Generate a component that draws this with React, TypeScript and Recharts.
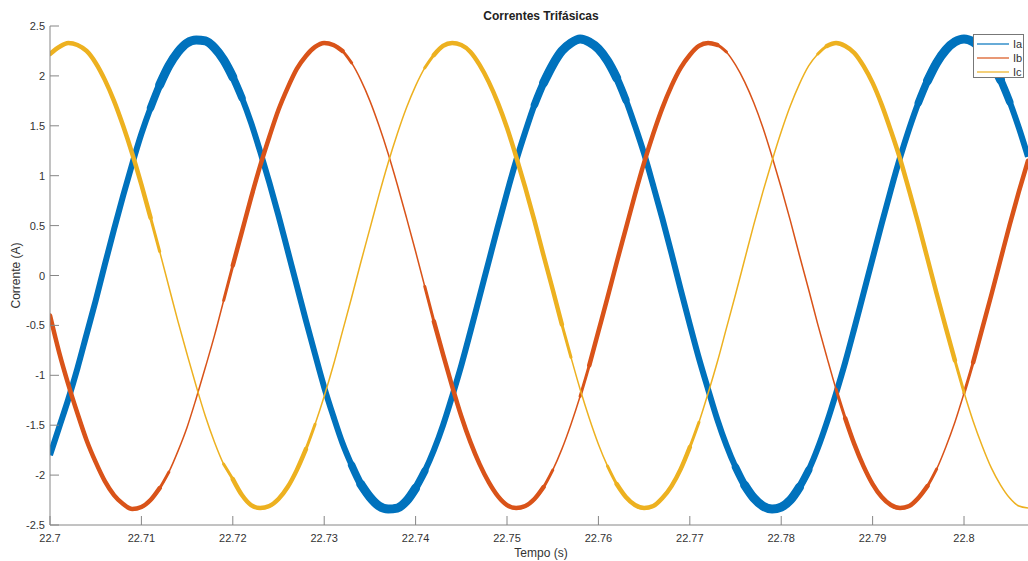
import { LineChart, Line, XAxis, YAxis, Legend, Label } from "recharts";

// sample clock: 1 ms steps from 22.700 s
const tempo = Array.from({ length: 108 }, (_, i) => +(22.7 + i * 0.001).toFixed(3));

const ia = [
  -1.8, -1.52, -1.24, -0.93, -0.59, -0.25, 0.11, 0.46, 0.8, 1.12,
  1.42, 1.68, 1.91, 2.1, 2.24, 2.33, 2.36, 2.35, 2.28, 2.16,
  1.99, 1.78, 1.53, 1.24, 0.93, 0.6, 0.25, -0.1, -0.45, -0.79,
  -1.12, -1.41, -1.68, -1.9, -2.09, -2.22, -2.31, -2.34, -2.33, -2.26,
  -2.13, -1.96, -1.75, -1.5, -1.21, -0.9, -0.56, -0.21, 0.14, 0.49,
  0.83, 1.15, 1.44, 1.71, 1.93, 2.11, 2.25, 2.33, 2.37, 2.34,
  2.27, 2.15, 1.98, 1.76, 1.5, 1.22, 0.9, 0.57, 0.22, -0.14,
  -0.49, -0.83, -1.14, -1.44, -1.7, -1.92, -2.1, -2.23, -2.31, -2.34,
  -2.32, -2.25, -2.12, -1.95, -1.73, -1.47, -1.18, -0.87, -0.53, -0.18,
  0.17, 0.52, 0.86, 1.18, 1.47, 1.73, 1.95, 2.13, 2.26, 2.34,
  2.37, 2.34, 2.26, 2.14, 1.96, 1.74, 1.48, 1.19,
];

const ib = [
  -0.4, -0.77, -1.09, -1.38, -1.65, -1.87, -2.06, -2.2, -2.29, -2.34,
  -2.32, -2.25, -2.13, -1.97, -1.76, -1.52, -1.23, -0.92, -0.6, -0.25,
  0.1, 0.44, 0.78, 1.1, 1.39, 1.66, 1.88, 2.07, 2.2, 2.29,
  2.33, 2.31, 2.25, 2.13, 1.96, 1.75, 1.5, 1.22, 0.91, 0.58,
  0.24, -0.11, -0.46, -0.79, -1.11, -1.41, -1.67, -1.89, -2.07, -2.21,
  -2.3, -2.33, -2.31, -2.24, -2.12, -1.95, -1.74, -1.49, -1.21, -0.9,
  -0.56, -0.22, 0.13, 0.47, 0.81, 1.13, 1.42, 1.68, 1.9, 2.08,
  2.21, 2.3, 2.33, 2.31, 2.24, 2.11, 1.94, 1.73, 1.48, 1.19,
  0.88, 0.55, 0.2, -0.14, -0.49, -0.82, -1.14, -1.43, -1.69, -1.91,
  -2.09, -2.22, -2.3, -2.33, -2.31, -2.23, -2.11, -1.94, -1.72, -1.47,
  -1.18, -0.87, -0.53, -0.19, 0.16, 0.51, 0.84, 1.15,
];

const ic = [
  2.22, 2.29, 2.33, 2.31, 2.25, 2.13, 1.96, 1.75, 1.5, 1.22,
  0.91, 0.58, 0.24, -0.11, -0.46, -0.79, -1.11, -1.41, -1.67, -1.89,
  -2.04, -2.2, -2.3, -2.33, -2.31, -2.24, -2.12, -1.95, -1.74, -1.49,
  -1.21, -0.9, -0.56, -0.22, 0.13, 0.47, 0.81, 1.13, 1.42, 1.68,
  1.9, 2.08, 2.21, 2.3, 2.33, 2.31, 2.24, 2.11, 1.94, 1.73,
  1.48, 1.19, 0.88, 0.55, 0.2, -0.14, -0.49, -0.82, -1.14, -1.43,
  -1.69, -1.91, -2.09, -2.22, -2.3, -2.33, -2.31, -2.23, -2.11, -1.94,
  -1.72, -1.47, -1.18, -0.87, -0.53, -0.19, 0.16, 0.51, 0.84, 1.15,
  1.44, 1.7, 1.92, 2.1, 2.22, 2.3, 2.33, 2.3, 2.23, 2.1,
  1.93, 1.71, 1.45, 1.17, 0.85, 0.52, 0.17, -0.18, -0.52, -0.85,
  -1.17, -1.46, -1.71, -1.93, -2.1, -2.23, -2.31, -2.33,
];

// time spans where the ripple band is wide (s)
const iaRipple = [
  [22.712, 22.72], [22.734, 22.74], [22.754, 22.762], [22.776, 22.782], [22.796, 22.804],
];
const ibRipple = [
  [22.7, 22.712], [22.72, 22.732], [22.742, 22.754],
  [22.759, 22.773], [22.787, 22.796], [22.801, 22.807],
];
const icRipple = [
  [22.7, 22.711], [22.72, 22.728], [22.742, 22.756],
  [22.762, 22.77], [22.785, 22.799],
];
const widen = (spans: number[][], d: number) => spans.map(([a, b]) => [a - d, b + d]);

const xTicks = [22.7, 22.71, 22.72, 22.73, 22.74, 22.75, 22.76, 22.77, 22.78, 22.79, 22.8];
const yTicks = [-2.5, -2, -1.5, -1, -0.5, 0, 0.5, 1, 1.5, 2, 2.5];

const seriesNames = ["Ia", "Ib", "Ic"];
const colors = ["#0072BD", "#D95319", "#EDB120"];

const data = tempo.map((t, i) => ({ t, ia: ia[i], ib: ib[i], ic: ic[i] }));

const inSpan = (t: number, spans: number[][]) =>
  spans.some(([a, b]) => t >= a - 1e-9 && t <= b + 1e-9);

const FONT = "'Liberation Sans', Arial, Helvetica, sans-serif";
const AXIS = "#868686";
const TEXT = "#333333";

const fmtX = (v: number) => String(Number(v.toFixed(2)));

const XTick = (props: any) => {
  const { x, y, payload } = props;
  return (
    <g>
      <line x1={x} x2={x} y1={y} y2={y - 9} stroke={AXIS} />
      <text x={x} y={y + 17} textAnchor="middle" fill={TEXT} fontSize={11} fontFamily={FONT}>
        {fmtX(payload.value)}
      </text>
    </g>
  );
};

const YTick = (props: any) => {
  const { x, y, payload } = props;
  return (
    <g>
      <line x1={x} x2={x + 9} y1={y} y2={y} stroke={AXIS} />
      <text x={x - 5} y={y + 4} textAnchor="end" fill={TEXT} fontSize={11} fontFamily={FONT}>
        {String(payload.value)}
      </text>
    </g>
  );
};

const XLabel = (props: any) => {
  const vb = props.viewBox;
  return (
    <text x={vb.x + vb.width / 2 + 2} y={vb.y + 32} textAnchor="middle" fill={TEXT} fontSize={12} fontFamily={FONT}>
      Tempo (s)
    </text>
  );
};

const YLabel = (props: any) => {
  const vb = props.viewBox;
  const cy = vb.y + vb.height / 2;
  return (
    <text
      x={0}
      y={0}
      transform={`translate(20, ${cy}) rotate(-90)`}
      textAnchor="middle"
      fill={TEXT}
      fontSize={12}
      fontFamily={FONT}
    >
      Corrente (A)
    </text>
  );
};

const LegendBox = () => (
  <div style={{ background: "#fff", border: "1px solid #777", width: 49, height: 42, boxSizing: "content-box" }}>
    <svg width={49} height={42}>
      {seriesNames.map((n, i) => (
        <g key={n}>
          <line x1={3} x2={35} y1={9 + i * 14} y2={9 + i * 14} stroke={colors[i]} strokeWidth={1.2} />
          <text x={39} y={13 + i * 14} fontSize={11} fontFamily={FONT} fill={TEXT}>
            {n}
          </text>
        </g>
      ))}
    </svg>
  </div>
);

// one phase: thin trace, medium band and wide band where the ripple is big
const phaseLines = (key: "ia" | "ib" | "ic", idx: number, base: number, spans: number[][], mid: number, wide: number) => [
  <Line
    key={key}
    type="monotone"
    dataKey={key}
    name={seriesNames[idx]}
    stroke={colors[idx]}
    strokeWidth={base}
    strokeLinejoin="round"
    dot={false}
    activeDot={false}
    isAnimationActive={false}
  />,
  <Line
    key={key + "-mid"}
    type="monotone"
    dataKey={(d: any) => (inSpan(d.t, widen(spans, 0.0015)) ? d[key] : null)}
    legendType="none"
    stroke={colors[idx]}
    strokeWidth={mid}
    strokeLinejoin="round"
    strokeLinecap="round"
    dot={false}
    activeDot={false}
    isAnimationActive={false}
  />,
  <Line
    key={key + "-wide"}
    type="monotone"
    dataKey={(d: any) => (inSpan(d.t, spans) ? d[key] : null)}
    legendType="none"
    stroke={colors[idx]}
    strokeWidth={wide}
    strokeLinejoin="round"
    strokeLinecap="round"
    dot={false}
    activeDot={false}
    isAnimationActive={false}
  />,
];

export default function App() {
  return (
    <div style={{ position: "absolute", left: 0, top: 0, width: 1028, height: 561, background: "#fff" }}>
      <div
        style={{
          position: "absolute",
          left: 441,
          top: 10,
          width: 200,
          textAlign: "center",
          fontFamily: FONT,
          fontWeight: "bold",
          fontSize: 12,
          lineHeight: "13px",
          color: "#222",
          zIndex: 2,
        }}
      >
        Correntes Trifásicas
      </div>
      <LineChart width={1028} height={561} data={data} margin={{ top: 26, right: 0, bottom: 0, left: 0 }}>
        <XAxis
          dataKey="t"
          type="number"
          domain={[22.7, 22.807]}
          allowDataOverflow
          ticks={xTicks}
          interval={0}
          height={36}
          tickSize={0}
          tickMargin={0}
          tickLine={false}
          tick={<XTick />}
          axisLine={{ stroke: AXIS }}
        >
          <Label content={<XLabel />} />
        </XAxis>
        <YAxis
          type="number"
          domain={[-2.5, 2.5]}
          allowDataOverflow
          ticks={yTicks}
          interval={0}
          width={50}
          tickSize={0}
          tickMargin={0}
          tickLine={false}
          tick={<YTick />}
          axisLine={{ stroke: AXIS }}
        >
          <Label content={<YLabel />} />
        </YAxis>
        <Legend
          layout="vertical"
          align="center"
          verticalAlign="middle"
          content={<LegendBox />}
          wrapperStyle={{ top: 34, left: 973, width: 51, height: 44 }}
        />
        {phaseLines("ia", 0, 6, iaRipple, 7.5, 9)}
        {phaseLines("ib", 1, 1.5, ibRipple, 3, 4.5)}
        {phaseLines("ic", 2, 1.5, icRipple, 3, 4.5)}
      </LineChart>
    </div>
  );
}
